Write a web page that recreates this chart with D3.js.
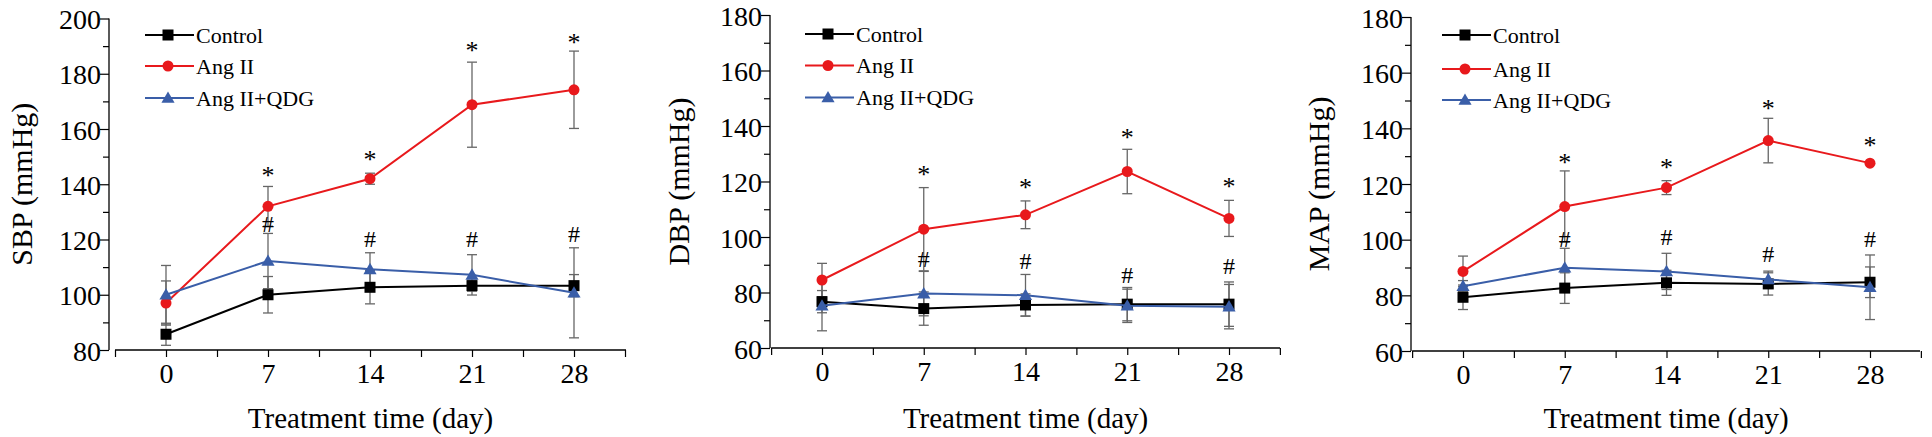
<!DOCTYPE html>
<html><head><meta charset="utf-8">
<script src="https://cdn.jsdelivr.net/npm/d3@7"></script>
<style>body{margin:0;background:#fff}text{font-family:"Liberation Serif","Times New Roman",serif}</style>
</head><body><svg id="c" width="1932" height="437"></svg>
<script>
const days=[0,7,14,21,28];
const seriesNames=["Control","Ang II","Ang II+QDG"];
// SBP
const sbpControl=[85.7,100,102.7,103.3,103.3], sbpControlErr=[4,6.6,6,2,4];
const sbpAng=[97,132,142,168.8,174.2], sbpAngErr=[8,7.2,2,15.4,14];
const sbpQdg=[100,112.2,109.2,107.2,100.7], sbpQdgErr=[10.6,10,6,7.3,16.3];
const sbpStar=[146.5,152.6,192,195], sbpHash=[125.8,120.4,120.4,122.2];
// DBP
const dbpControl=[76.7,74.2,75.5,75.8,75.8], dbpControlErr=[4,6,4,6,8];
const dbpAng=[84.5,102.8,108,123.6,106.7], dbpAngErr=[6,15,5,8,6.5];
const dbpQdg=[75.2,79.6,79,75.2,74.9], dbpQdgErr=[9,8,7.5,6,8];
const dbpStar=[126,121.2,139.4,121.8], dbpHash=[92.1,91.5,86.3,89.7];
// MAP
const mapControl=[79.3,82.6,84.5,84.1,84.7], mapControlErr=[4.4,5.5,4.5,4,5.5];
const mapAng=[88.6,111.9,118.7,135.6,127.5], mapAngErr=[5.5,12.8,2.5,8,0.5];
const mapQdg=[83.3,89.9,88.6,85.7,82.9], mapQdgErr=[2,7,6.5,3,11.6];
const mapStar=[131.2,129.3,150.7,137.2], mapHash=[100.4,101,95,100.4];
const sbpTicks=[80,100,120,140,160,180,200], bpTicks=[60,80,100,120,140,160,180];

const colors=["#000","#e8191c","#3a5ea8"];
const panels=[
 {label:"SBP (mmHg)",x0:109,x1:626,xa:166,xb:574,top:18.5,bot:350,ymin:80,ymax:200,ticks:sbpTicks,
  vals:[sbpControl,sbpAng,sbpQdg],errs:[sbpControlErr,sbpAngErr,sbpQdgErr],star:sbpStar,hash:sbpHash,
  lg:{x:145,rows:[35,66,98]},lx:22},
 {label:"DBP (mmHg)",x0:770,x1:1280,xa:822,xb:1229,top:15,bot:348,ymin:60,ymax:180,ticks:bpTicks,
  vals:[dbpControl,dbpAng,dbpQdg],errs:[dbpControlErr,dbpAngErr,dbpQdgErr],star:dbpStar,hash:dbpHash,
  lg:{x:805,rows:[34,65.5,97.5]},lx:679},
 {label:"MAP (mmHg)",x0:1411,x1:1920,xa:1463,xb:1870,top:17,bot:351,ymin:60,ymax:180,ticks:bpTicks,
  vals:[mapControl,mapAng,mapQdg],errs:[mapControlErr,mapAngErr,mapQdgErr],star:mapStar,hash:mapHash,
  lg:{x:1442,rows:[35,69,100]},lx:1319}
];
const svg=d3.select("#c");
function marker(g,i,x,y){
  if(i===0) g.append("rect").attr("x",x-5.5).attr("y",y-5.5).attr("width",11).attr("height",11).attr("fill",colors[0]);
  else if(i===1) g.append("circle").attr("cx",x).attr("cy",y).attr("r",5.5).attr("fill",colors[1]);
  else g.append("path").attr("d",d3.symbol(d3.symbolTriangle,75)()).attr("transform",`translate(${x},${y+1})`).attr("fill",colors[2]);
}
panels.forEach(p=>{
  const g=svg.append("g");
  const x=d3.scaleLinear().domain([0,28]).range([p.xa,p.xb]);
  const xd=x.domain([0,28]);
  const y=d3.scaleLinear().domain([p.ymin,p.ymax]).range([p.bot,p.top]);
  // axes
  const xTicks=d3.range(-3.5,31.6,3.5);
  const xa=g.append("g").attr("transform",`translate(0,${p.bot})`)
    .call(d3.axisBottom(x).tickValues(xTicks).tickSize(7).tickFormat(d=>days.includes(d)?d:""));
  xa.select(".domain").attr("d",`M${x(-3.5)},0H${p.x1}`).attr("stroke-width",1.3);
  xa.selectAll("text").attr("font-size",28).attr("dy","0.75em").attr("y",12);
  const minor=d3.range(p.ymin,p.ymax+0.1,10);
  const ya=g.append("g").attr("transform",`translate(${p.x0},0)`)
    .call(d3.axisLeft(y).tickValues(minor).tickSize(6).tickFormat(d=>p.ticks.includes(d)?d:""));
  ya.select(".domain").attr("d",`M0,${p.bot}V${p.top}`).attr("stroke-width",1.3);
  ya.selectAll(".tick").filter(d=>p.ticks.includes(d)).select("line").attr("x2",-9);
  ya.selectAll("text").attr("font-size",28).attr("x",-8).attr("dy","0.36em");
  g.selectAll(".tick line").attr("stroke-width",1.2);
  g.append("text").attr("x",(x(-3.5)+p.x1)/2).attr("y",428).attr("text-anchor","middle").attr("font-size",29).text("Treatment time (day)");
  g.append("text").attr("transform",`translate(${p.lx+10},${(p.top+p.bot)/2}) rotate(-90)`).attr("text-anchor","middle").attr("font-size",30).text(p.label);
  // error bars
  p.vals.forEach((v,i)=>{
    v.forEach((d,k)=>{
      const e=p.errs[i][k], cx=x(days[k]);
      g.append("line").attr("x1",cx).attr("x2",cx).attr("y1",y(d-e)).attr("y2",y(d+e)).attr("stroke","#666").attr("stroke-width",1.3);
      [d-e,d+e].forEach(t=>g.append("line").attr("x1",cx-5).attr("x2",cx+5).attr("y1",y(t)).attr("y2",y(t)).attr("stroke","#666").attr("stroke-width",1.3));
    });
  });
  p.vals.forEach((v,i)=>{
    g.append("path").datum(v).attr("fill","none").attr("stroke",colors[i]).attr("stroke-width",2)
      .attr("d",d3.line().x((d,k)=>x(days[k])).y(d=>y(d)));
    v.forEach((d,k)=>marker(g,i,x(days[k]),y(d)));
  });
  p.star.forEach((s,k)=>g.append("text").attr("x",x(days[k+1])).attr("y",y(s)).attr("dy","0.7em").attr("text-anchor","middle").attr("font-size",26).text("*"));
  p.hash.forEach((s,k)=>g.append("text").attr("x",x(days[k+1])).attr("y",y(s)).attr("dy","0.35em").attr("text-anchor","middle").attr("font-size",24).text("#"));
  // legend
  seriesNames.forEach((n,i)=>{
    const ry=p.lg.rows[i];
    g.append("line").attr("x1",p.lg.x).attr("x2",p.lg.x+49).attr("y1",ry).attr("y2",ry).attr("stroke",colors[i]).attr("stroke-width",2);
    marker(g,i,p.lg.x+23,ry);
    g.append("text").attr("x",p.lg.x+51).attr("y",ry).attr("dy","0.35em").attr("font-size",22).text(n);
  });
});
</script></body></html>
